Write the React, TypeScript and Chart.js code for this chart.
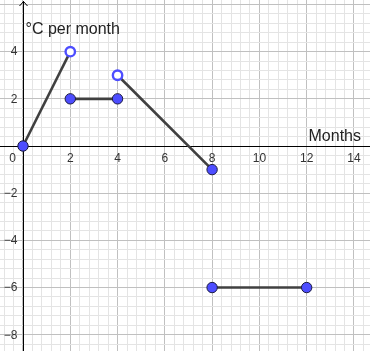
import React, { useEffect, useRef } from "react";
import { Chart, registerables } from "chart.js";

Chart.register(...registerables);

// Segments (start -> end)
const segStartX = [0, 2, 4, 8];
const segStartY = [0, 2, 3, -6];
const segEndX = [2, 4, 8, 12];
const segEndY = [4, 2, -1, -6];

// Filled (closed) points
const filledX = [0, 2, 4, 8, 8, 12];
const filledY = [0, 2, 2, -1, -6, -6];

// Open (hollow) points
const openX = [2, 4];
const openY = [4, 3];

// Axis tick labels
const xTickLabels = [2, 4, 6, 8, 10, 12, 14];
const yTickLabels = [-8, -6, -4, -2, 2, 4];

const xTitle = "Months";
const yTitle = "°C per month";

const X_MIN = -0.973;
const X_MAX = 14.68;
const Y_MIN = -8.69;
const Y_MAX = 6.19;
const MINOR = 0.4;
const MAJOR = 2;

const FONT = '"Liberation Sans", Arial, sans-serif';

function gridTicks(min: number, max: number) {
  const ticks: { value: number }[] = [];
  const start = Math.ceil(min / MINOR);
  const end = Math.floor(max / MINOR);
  for (let k = start; k <= end; k++) {
    ticks.push({ value: Math.round(k * MINOR * 10) / 10 });
  }
  return ticks;
}

function gridColor(ctx: any) {
  const v = ctx.tick ? ctx.tick.value : 0;
  const r = v / MAJOR;
  if (Math.abs(r - Math.round(r)) < 1e-6) return "#c0c0c0";
  return "#e4e4e4";
}

const fmt = (v: number) => (v < 0 ? "\u2212" + Math.abs(v) : String(v));

const axesPlugin = {
  id: "ggbAxes",
  beforeDatasetsDraw(chart: any) {
    const { ctx, scales, chartArea } = chart;
    const xs = scales.x;
    const ys = scales.y;
    const x0 = Math.round(xs.getPixelForValue(0)) + 0.5;
    const y0 = Math.round(ys.getPixelForValue(0)) + 0.5;
    ctx.save();
    ctx.strokeStyle = "#000";
    ctx.lineWidth = 1;
    ctx.beginPath();
    ctx.moveTo(chartArea.left, y0);
    ctx.lineTo(chartArea.right, y0);
    ctx.moveTo(x0, chartArea.bottom);
    ctx.lineTo(x0, chartArea.top + 1);
    ctx.stroke();
    // arrow on y-axis
    ctx.beginPath();
    ctx.moveTo(x0 - 4, chartArea.top + 6);
    ctx.lineTo(x0, chartArea.top + 1.5);
    ctx.lineTo(x0 + 4, chartArea.top + 6);
    ctx.stroke();

    ctx.fillStyle = "#333";
    ctx.font = "12px " + FONT;
    ctx.textAlign = "center";
    ctx.textBaseline = "middle";
    xTickLabels.forEach((v) => {
      ctx.fillText(fmt(v), xs.getPixelForValue(v), y0 + 12);
    });
    ctx.fillText("0", x0 - 11, y0 + 12);
    ctx.textAlign = "right";
    yTickLabels.forEach((v) => {
      ctx.fillText(fmt(v), x0 - 6, ys.getPixelForValue(v) + 0.5);
    });

    ctx.font = "16px " + FONT;
    ctx.fillStyle = "#222";
    ctx.textAlign = "left";
    ctx.textBaseline = "alphabetic";
    ctx.fillText(yTitle, x0 + 2, 34);
    ctx.textAlign = "right";
    ctx.fillText(xTitle, chartArea.right - 9, y0 - 6);
    ctx.restore();
  },
};

export default function App() {
  const canvasRef = useRef<HTMLCanvasElement | null>(null);

  useEffect(() => {
    if (!canvasRef.current) return;
    const segments = segStartX.map((sx, i) => ({
      type: "scatter" as const,
      data: [
        { x: sx, y: segStartY[i] },
        { x: segEndX[i], y: segEndY[i] },
      ],
      showLine: true,
      borderColor: "#404040",
      borderWidth: 2.6,
      pointRadius: 0,
      pointHoverRadius: 0,
      order: 2,
    }));
    const chart = new Chart(canvasRef.current, {
      type: "scatter",
      data: {
        datasets: [
          {
            data: filledX.map((x, i) => ({ x, y: filledY[i] })),
            backgroundColor: "#4d4dff",
            borderColor: "#1a1a40",
            borderWidth: 1,
            pointRadius: 5.2,
            order: 0,
          },
          {
            data: openX.map((x, i) => ({ x, y: openY[i] })),
            backgroundColor: "#ffffff",
            borderColor: "#4d4dff",
            borderWidth: 2.4,
            pointRadius: 4.7,
            order: 1,
          },
          ...segments,
        ] as any,
      },
      options: {
        responsive: false,
        animation: false,
        devicePixelRatio: 1,
        layout: { padding: 0, autoPadding: false },
        plugins: {
          legend: { display: false },
          tooltip: { enabled: false },
        },
        events: [],
        scales: {
          x: {
            type: "linear",
            min: X_MIN,
            max: X_MAX,
            afterBuildTicks: (s: any) => {
              s.ticks = gridTicks(X_MIN, X_MAX);
            },
            ticks: { display: false },
            grid: { color: gridColor, lineWidth: 1, drawTicks: false },
            border: { display: false },
          },
          y: {
            type: "linear",
            min: Y_MIN,
            max: Y_MAX,
            afterBuildTicks: (s: any) => {
              s.ticks = gridTicks(Y_MIN, Y_MAX);
            },
            ticks: { display: false },
            grid: { color: gridColor, lineWidth: 1, drawTicks: false },
            border: { display: false },
          },
        },
      } as any,
      plugins: [axesPlugin],
    });
    return () => chart.destroy();
  }, []);

  return (
    <div style={{ position: "absolute", left: 0, top: 0, width: 370, height: 351, background: "#fff" }}>
      <canvas ref={canvasRef} width={370} height={351} style={{ display: "block" }} />
    </div>
  );
}
